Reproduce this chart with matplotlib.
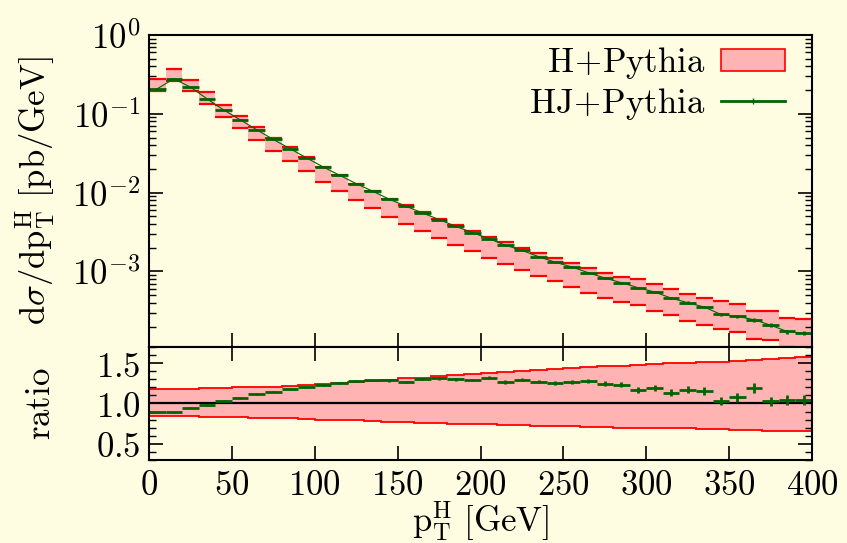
import numpy as np
import matplotlib
matplotlib.use("Agg")
import matplotlib.pyplot as plt
from matplotlib.patches import Patch
from matplotlib.lines import Line2D
from matplotlib.ticker import FixedLocator, MultipleLocator, NullFormatter, FuncFormatter, LogLocator

plt.rcParams["mathtext.fontset"] = "cm"
plt.rcParams["font.family"] = "serif"
plt.rcParams["font.serif"] = ["DejaVu Serif"]

# pT^H bins [GeV]
bin_edges = np.arange(0, 410, 10)

# HJ+Pythia distribution [pb/GeV]
hj = [0.208, 0.278, 0.218, 0.155, 0.112, 0.084, 0.0627, 0.0472, 0.0362, 0.0276,
      0.0212, 0.0166, 0.0130, 0.0104, 8.24e-3, 6.72e-3, 5.52e-3, 4.55e-3, 3.74e-3, 3.11e-3,
      2.61e-3, 2.15e-3, 1.85e-3, 1.54e-3, 1.31e-3, 1.14e-3, 9.64e-4, 8.24e-4, 7.19e-4, 6.22e-4,
      5.48e-4, 4.59e-4, 4.01e-4, 3.53e-4, 2.85e-4, 2.69e-4, 2.44e-4, 2.08e-4, 1.73e-4, 1.65e-4]

# HJ+Pythia / H+Pythia and its statistical error
hj_ratio = [0.89, 0.89, 0.95, 0.98, 1.03, 1.07, 1.115, 1.145, 1.175, 1.20,
            1.23, 1.255, 1.275, 1.285, 1.285, 1.27, 1.30, 1.31, 1.30, 1.29,
            1.32, 1.265, 1.295, 1.27, 1.25, 1.27, 1.275, 1.245, 1.23, 1.165,
            1.195, 1.135, 1.17, 1.155, 1.035, 1.075, 1.19, 1.025, 1.045, 1.045]
hj_ratio_err = [0.008, 0.008, 0.008, 0.008, 0.008, 0.009, 0.009, 0.009, 0.010, 0.010,
                0.011, 0.011, 0.012, 0.012, 0.013, 0.013, 0.014, 0.015, 0.016, 0.017,
                0.018, 0.020, 0.021, 0.022, 0.024, 0.025, 0.027, 0.028, 0.030, 0.036,
                0.038, 0.040, 0.042, 0.045, 0.050, 0.052, 0.065, 0.058, 0.060, 0.062]

# H+Pythia scale-variation envelope relative to its central value
band_hi = [1.18, 1.18, 1.18, 1.19, 1.19, 1.20, 1.20, 1.21, 1.22, 1.23,
           1.24, 1.25, 1.26, 1.28, 1.29, 1.31, 1.32, 1.34, 1.35, 1.37,
           1.38, 1.39, 1.40, 1.42, 1.43, 1.44, 1.45, 1.46, 1.47, 1.48,
           1.49, 1.50, 1.50, 1.51, 1.52, 1.53, 1.54, 1.55, 1.56, 1.57]
band_lo = [0.84, 0.84, 0.84, 0.835, 0.83, 0.83, 0.825, 0.82, 0.815, 0.81,
           0.80, 0.795, 0.79, 0.78, 0.775, 0.765, 0.76, 0.755, 0.75, 0.745,
           0.74, 0.735, 0.73, 0.725, 0.72, 0.715, 0.71, 0.705, 0.70, 0.70,
           0.695, 0.69, 0.69, 0.685, 0.68, 0.675, 0.67, 0.665, 0.66, 0.655]

hj = np.array(hj)
hj_ratio = np.array(hj_ratio)
hj_ratio_err = np.array(hj_ratio_err)
band_hi = np.array(band_hi)
band_lo = np.array(band_lo)
h_central = hj / hj_ratio
centers = 0.5 * (bin_edges[:-1] + bin_edges[1:])
half_width = 0.5 * np.diff(bin_edges)

bg = "#fffde1"
pink = "#ffb3b3"
green = "#006400"
fs = 25

fig = plt.figure(figsize=(8.47, 5.43), dpi=100, facecolor=bg)
ax = fig.add_axes([0.1759, 0.3610, 0.7828, 0.5746], facecolor=bg)
rax = fig.add_axes([0.1759, 0.1529, 0.7828, 0.2081], facecolor=bg, sharex=ax)

# upper panel: spectra
ax.stairs(h_central * band_hi, bin_edges, baseline=h_central * band_lo,
          fill=True, color=pink, lw=0)
ax.hlines(h_central * band_hi, bin_edges[:-1], bin_edges[1:], color="red", lw=1.6)
ax.hlines(h_central * band_lo, bin_edges[:-1], bin_edges[1:], color="red", lw=1.6)
ax.plot(centers, hj, color=green, lw=0.8)
ax.errorbar(centers, hj, xerr=half_width, yerr=hj * hj_ratio_err / hj_ratio,
            fmt="none", ecolor=green, elinewidth=2.0, capsize=0)

ax.set_yscale("log")
ax.set_ylim(1.1e-4, 1.0)
ax.set_xlim(0, 400)
ax.yaxis.set_major_locator(FixedLocator([1e-3, 1e-2, 1e-1, 1e0]))
ax.yaxis.set_minor_locator(LogLocator(base=10, subs=np.arange(2, 10)))
ax.yaxis.set_major_formatter(FuncFormatter(lambda v, p: r"$10^{%d}$" % round(np.log10(v))))
ax.yaxis.set_minor_formatter(NullFormatter())
ax.set_ylabel(r"$\mathrm{d}\sigma/\mathrm{dp}_\mathrm{T}^\mathrm{H}\ [\mathrm{pb/GeV}]$", fontsize=fs)

leg_handles = [Patch(facecolor=pink, edgecolor="red", lw=1.2),
               Line2D([], [], color=green, lw=2.0, marker="|", markersize=4)]
ax.legend(leg_handles, [r"$\mathrm{H\!+\!Pythia}$", r"$\mathrm{HJ\!+\!Pythia}$"],
          loc="upper right", bbox_to_anchor=(0.980, 1.013), frameon=False,
          markerfirst=False, fontsize=fs, handlelength=1.85, handleheight=0.6,
          handletextpad=0.45, labelspacing=0.15, borderaxespad=0.0, borderpad=0.4)

# lower panel: ratio
rax.stairs(band_hi, bin_edges, baseline=band_lo, fill=True, color=pink, lw=0)
rax.stairs(band_hi, bin_edges, color="red", lw=1.3)
rax.stairs(band_lo, bin_edges, color="red", lw=1.3)
rax.axhline(1.0, color="black", lw=1.6)
rax.errorbar(centers, hj_ratio, xerr=half_width, yerr=hj_ratio_err,
             fmt="none", ecolor=green, elinewidth=2.0, capsize=0)

rax.set_ylim(0.3, 1.7)
rax.yaxis.set_major_locator(FixedLocator([0.5, 1.0, 1.5]))
rax.yaxis.set_minor_locator(MultipleLocator(0.1))
rax.yaxis.set_major_formatter(FuncFormatter(lambda v, p: r"$%.1f$" % v))
rax.xaxis.set_major_locator(MultipleLocator(50))
rax.xaxis.set_major_formatter(FuncFormatter(lambda v, p: r"$%d$" % v))
rax.set_ylabel(r"$\mathrm{ratio}$", fontsize=fs)
rax.set_xlabel(r"$\mathrm{p}_\mathrm{T}^\mathrm{H}\ [\mathrm{GeV}]$", fontsize=fs, labelpad=-2)

for a in (ax, rax):
    for s in a.spines.values():
        s.set_linewidth(1.5)
    a.tick_params(which="both", direction="in", left=True, right=True, labelsize=fs, pad=6)
    a.tick_params(which="major", length=10, width=1.2)
    a.tick_params(which="minor", length=5, width=1.0)
ax.tick_params(axis="x", which="both", top=False, bottom=True, labelbottom=False)
rax.tick_params(axis="x", which="both", top=True, bottom=True)
ax.yaxis.set_label_coords(-0.138, 0.5)
rax.yaxis.set_label_coords(-0.138, 0.5)

fig.savefig("out.png", dpi=100, facecolor=bg)
